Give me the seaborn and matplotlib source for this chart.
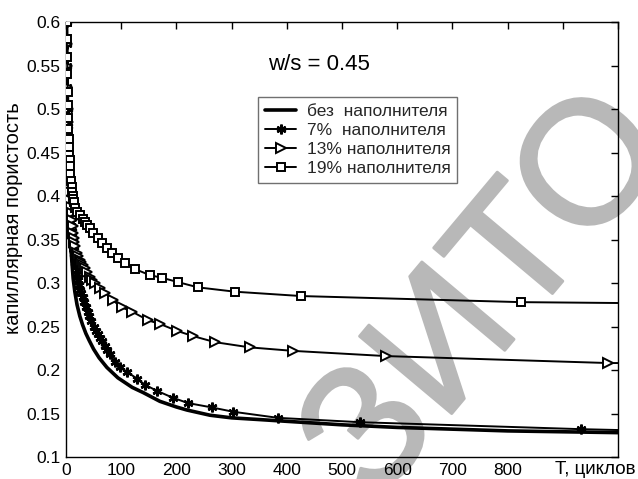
import numpy as np
import pandas as pd
import seaborn as sns
import matplotlib
matplotlib.use("Agg")
import matplotlib.pyplot as plt
import matplotlib.patheffects as pe

# ---- data ----
t_plain = [1, 2, 3, 4, 5, 6, 8, 10, 13, 16, 20, 25, 30, 36, 42, 50, 60, 74, 94,
           120, 140, 170, 200, 219, 261, 300, 351, 400, 500, 600, 700, 800, 900, 1000]
v_plain = [0.6, 0.54, 0.49, 0.45, 0.42, 0.38, 0.35, 0.33, 0.305, 0.29, 0.275, 0.262,
           0.252, 0.242, 0.234, 0.224, 0.214, 0.203, 0.191, 0.18, 0.174, 0.164, 0.1575,
           0.154, 0.148, 0.145, 0.143, 0.141, 0.137, 0.134, 0.132, 0.130, 0.129, 0.128]

t_7 = [1, 1.5, 2, 2.5, 3, 3.5, 4, 4.5, 5, 5.5, 6, 6.5, 7, 8, 9, 10, 11, 12, 13, 14, 15,
       16, 17, 18, 20, 22, 24, 26, 28, 30, 33, 36, 39, 42, 46, 50, 54, 58, 62, 66, 70, 75,
       80, 89, 98, 110, 129, 143, 165, 194, 221, 264, 303, 384, 533, 933, 1000]
v_7 = [0.6, 0.575, 0.55, 0.525, 0.5, 0.48, 0.46, 0.445, 0.43, 0.42, 0.41, 0.40, 0.39,
       0.38, 0.37, 0.36, 0.354, 0.348, 0.343, 0.338, 0.333, 0.328, 0.323, 0.318, 0.31,
       0.304, 0.298, 0.292, 0.288, 0.284, 0.278, 0.272, 0.267, 0.262, 0.256, 0.25, 0.245,
       0.241, 0.237, 0.233, 0.228, 0.223, 0.218, 0.209, 0.203, 0.198, 0.19, 0.183, 0.176,
       0.168, 0.162, 0.157, 0.152, 0.145, 0.140, 0.132, 0.131]

t_13 = [1, 1.5, 2, 2.5, 3, 3.5, 4, 4.5, 5, 5.5, 6, 6.5, 7, 8, 9, 10, 11, 12, 13, 14, 15,
        17, 20, 22, 25, 28, 31, 34, 38, 43, 48, 53, 62, 71, 85, 101, 120, 149, 170, 201,
        230, 270, 333, 411, 580, 982, 1000]
v_13 = [0.6, 0.575, 0.55, 0.525, 0.5, 0.485, 0.47, 0.455, 0.44, 0.43, 0.42, 0.412, 0.405,
        0.395, 0.387, 0.38, 0.372, 0.365, 0.358, 0.352, 0.347, 0.343, 0.335, 0.331, 0.326,
        0.324, 0.321, 0.317, 0.313, 0.307, 0.303, 0.300, 0.294, 0.289, 0.280, 0.272, 0.267,
        0.257, 0.253, 0.245, 0.239, 0.232, 0.226, 0.222, 0.216, 0.208, 0.208]

t_19 = [1, 1.5, 2, 2.5, 3, 3.5, 4, 4.5, 5, 5.5, 6, 6.5, 7, 8, 9, 10, 11, 12, 13, 14, 16,
        20, 25, 30, 34, 38, 43, 49, 58, 65, 74, 83, 94, 107, 125, 152, 174, 203, 239, 306,
        426, 824, 1000]
v_19 = [0.6, 0.58, 0.56, 0.54, 0.52, 0.505, 0.49, 0.477, 0.465, 0.456, 0.447, 0.441,
        0.435, 0.425, 0.417, 0.41, 0.405, 0.40, 0.397, 0.393, 0.386, 0.382, 0.378, 0.374,
        0.370, 0.367, 0.363, 0.357, 0.352, 0.346, 0.340, 0.334, 0.329, 0.323, 0.316, 0.309,
        0.306, 0.301, 0.295, 0.290, 0.285, 0.278, 0.277]

labels = ["без  наполнителя", "7%  наполнителя", "13% наполнителя", "19% наполнителя"]
x_ticks = [0, 100, 200, 300, 400, 500, 600, 700, 800, 900, 1000]
x_ticklabels = ["0", "100", "200", "300", "400", "500", "600", "700", "800", "", ""]
y_ticks = [0.1, 0.15, 0.2, 0.25, 0.3, 0.35, 0.4, 0.45, 0.5, 0.55, 0.6]
y_ticklabels = ["0.1", "0.15", "0.2", "0.25", "0.3", "0.35", "0.4", "0.45", "0.5", "0.55", "0.6"]
annotation = "w/s = 0.45"
x_label = "T, циклов"
y_label = "капиллярная пористость"
watermark = "ЗИТО"

sns.set_theme(style="white")
plt.rcParams["font.family"] = ["Liberation Sans", "DejaVu Sans"]

fig = plt.figure(figsize=(6.38, 4.79), dpi=100)
ax = fig.add_axes([66 / 638, 1 - 457 / 479, 552 / 638, 435 / 479])
ax.patch.set_alpha(0)
ax.set_zorder(2)

# watermark behind the axes content
fig.text(490 / 638, 1 - 298 / 479, watermark, rotation=50, fontsize=126,
         color="#b8b8b8", ha="center", va="center", rotation_mode="anchor", zorder=1,
         path_effects=[pe.withStroke(linewidth=2, foreground="#b8b8b8")])

series = [
    (t_plain, v_plain, dict(lw=2.6, marker=None)),
    (t_7, v_7, dict(lw=1.4, marker=(6, 2, 0), ms=7, mfc="black", mec="black", mew=1.8,
                    markevery=list(range(len(t_7) - 1)))),
    (t_13, v_13, dict(lw=1.4, marker=">", ms=6.5, mfc="white", mec="black", mew=1.4,
                      markevery=list(range(len(t_13) - 1)))),
    (t_19, v_19, dict(lw=1.4, marker="s", ms=5.5, mfc="white", mec="black", mew=1.4,
                      markevery=list(range(len(t_19) - 1)))),
]
for (t, v, kw), lab in zip(series, labels):
    df = pd.DataFrame({"T": t, "v": v})
    sns.lineplot(data=df, x="T", y="v", ax=ax, color="black", label=lab,
                 estimator=None, sort=False, zorder=3, **kw)

ax.set_xlim(0, 1000)
ax.set_ylim(0.1, 0.6)
ax.set_xticks(x_ticks)
ax.set_xticklabels(x_ticklabels)
ax.set_yticks(y_ticks)
ax.set_yticklabels(y_ticklabels)
ax.tick_params(axis="both", which="both", direction="in", length=5, width=1,
               colors="black", labelsize=12.5, top=True, right=True, pad=4)
ax.set_xlabel("")
ax.set_ylabel("")
for s in ax.spines.values():
    s.set_color("black")
    s.set_linewidth(1)
    s.set_visible(True)

fig.text(14 / 638, 1 - 218 / 479, y_label, rotation=90, fontsize=14.5,
         ha="center", va="center", color="black")
fig.text(555 / 638, 1 - 469 / 479, x_label, fontsize=13.5, ha="left",
         va="center", color="black")
fig.text(268 / 638, 1 - 65 / 479, annotation, fontsize=16, ha="left", va="center",
         color="black")

leg = ax.legend(loc="upper left", bbox_to_anchor=((258 - 66) / 552, (457 - 97) / 435),
                borderaxespad=0, fontsize=12.5, frameon=True, fancybox=False,
                framealpha=1, edgecolor="#707070", handlelength=1.8,
                handletextpad=0.6, labelspacing=0.22, borderpad=0.4)
leg.get_frame().set_linewidth(1)

fig.savefig("out.png", dpi=100)
